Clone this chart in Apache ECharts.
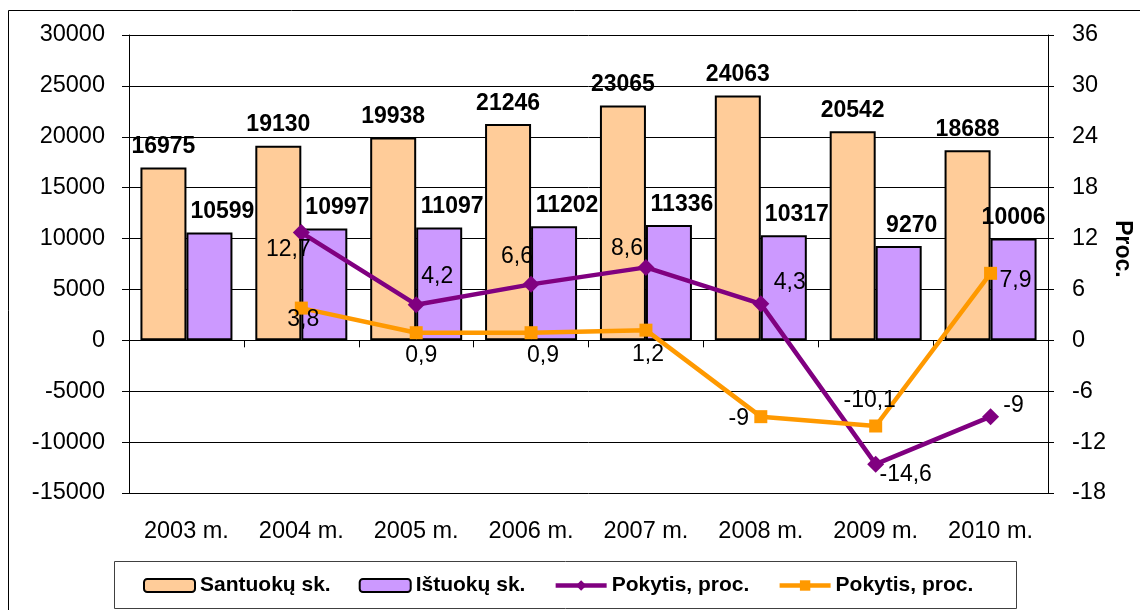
<!DOCTYPE html>
<html>
<head>
<meta charset="utf-8">
<script src="https://cdn.jsdelivr.net/npm/echarts@6/dist/echarts.min.js"></script>
<style>
  html, body { margin: 0; padding: 0; background: #fff; }
  #chart { width: 1140px; height: 610px; }
</style>
</head>
<body>
<div id="chart"></div>
<script>
// duomenys
const years = ['2003 m.', '2004 m.', '2005 m.', '2006 m.', '2007 m.', '2008 m.', '2009 m.', '2010 m.']
const marriages = [16975, 19130, 19938, 21246, 23065, 24063, 20542, 18688]
const divorces = [10599, 10997, 11097, 11202, 11336, 10317, 9270, 10006]
const marriageChange = [null, 12.7, 4.2, 6.6, 8.6, 4.3, -14.6, -9]
const divorceChange = [null, 3.8, 0.9, 0.9, 1.2, -9, -10.1, 7.9]

// kairė ir dešinė ašys
const leftTicks = { min: -15000, max: 30000, interval: 5000 }
const rightTicks = { min: -18, max: 36, interval: 6 }

// etikečių poslinkiai nuo taško (px)
const marriageLabelOffset = [null, [-13, 17], [21, -28], [-14, -28], [-19, -19], [29, -21], [30, 10], [23, -11]]
const divorceLabelOffset = [null, [2, 12], [5, 23], [12, 23], [2, 25], [-22, 2], [-6, -25], [25, 7]]

const FONT = "'Liberation Sans', Arial, sans-serif"
const fmt = (v) => String(v).replace('.', ',')

const chart = echarts.init(document.getElementById('chart'))

const lineData = (values, offsets) =>
  values.map((v, i) => ({
    value: v,
    label: offsets[i] ? { offset: offsets[i] } : undefined,
  }))

const option = {
  animation: false,
  textStyle: { fontFamily: FONT, color: '#000' },
  grid: { left: 129, right: 92, top: 35, bottom: 117 },
  graphic: [
    {
      type: 'rect',
      shape: { x: 8.5, y: 10.5, width: 1200, height: 700 },
      style: { fill: 'none', stroke: '#000', lineWidth: 1 },
      silent: true,
    },
    {
      type: 'rect',
      shape: { x: 114.5, y: 561.5, width: 902, height: 47 },
      style: { fill: 'none', stroke: '#404040', lineWidth: 1 },
      silent: true,
    },
    {
      type: 'text',
      x: 1122,
      y: 249,
      rotation: -Math.PI / 2,
      style: {
        text: 'Proc.',
        font: 'bold 23px ' + FONT,
        fill: '#000',
        align: 'center',
        verticalAlign: 'middle',
      },
    },
  ],
  legend: {
    left: 143,
    top: 575,
    padding: 0,
    itemWidth: 51,
    itemHeight: 13,
    itemGap: 28,
    textStyle: { fontFamily: FONT, fontSize: 21, fontWeight: 'bold', color: '#000' },
    data: [
      { name: 'Santuokų sk.' },
      { name: 'Ištuokų sk.' },
      { name: 'Pokytis, proc.', lineStyle: { width: 4.5 } },
      { name: 'Pokytis, proc. ', lineStyle: { width: 4.5 } },
    ],
  },
  xAxis: [
    {
      type: 'category',
      data: years,
      position: 'bottom',
      axisLine: { onZero: true, lineStyle: { color: '#000', width: 1 } },
      axisTick: { show: true, length: 7, lineStyle: { color: '#000' } },
      axisLabel: { show: false },
    },
    {
      type: 'category',
      data: years,
      position: 'bottom',
      axisLine: { show: false, onZero: false },
      axisTick: { show: false },
      axisLabel: { margin: 27, fontSize: 23.5, color: '#000', fontFamily: FONT },
    },
  ],
  yAxis: [
    {
      type: 'value',
      ...leftTicks,
      axisLine: { show: true, lineStyle: { color: '#000' } },
      axisTick: { show: true, length: 7, lineStyle: { color: '#000' } },
      axisLabel: { margin: 24, fontSize: 23.5, color: '#000', fontFamily: FONT, formatter: (v) => String(v) },
      splitLine: { show: true, lineStyle: { color: '#000', width: 1 } },
    },
    {
      type: 'value',
      ...rightTicks,
      position: 'right',
      axisLine: { show: true, lineStyle: { color: '#000' } },
      axisTick: { show: true, length: 6, lineStyle: { color: '#000' } },
      axisLabel: { margin: 24, fontSize: 23.5, color: '#000', fontFamily: FONT, formatter: (v) => String(v) },
      splitLine: { show: false },
    },
  ],
  series: [
    {
      name: 'Santuokų sk.',
      type: 'bar',
      data: marriages,
      barWidth: 46,
      barGap: '0%',
      itemStyle: { color: '#FFCC99', borderColor: '#000', borderWidth: 2 },
      label: {
        show: true,
        position: 'top',
        distance: 9,
        fontSize: 23,
        fontWeight: 'bold',
        color: '#000',
        fontFamily: FONT,
      },
      z: 2,
    },
    {
      name: 'Ištuokų sk.',
      type: 'bar',
      data: divorces.map((v, i) => ({
        value: v,
        label: { offset: i === divorces.length - 1 ? [0, 0] : [13, 0] },
      })),
      barWidth: 46,
      itemStyle: { color: '#CC99FF', borderColor: '#000', borderWidth: 2 },
      label: {
        show: true,
        position: 'top',
        distance: 9,
        fontSize: 23,
        fontWeight: 'bold',
        color: '#000',
        fontFamily: FONT,
      },
      z: 2,
    },
    {
      name: 'Pokytis, proc.',
      type: 'line',
      yAxisIndex: 1,
      data: lineData(marriageChange, marriageLabelOffset),
      symbol: 'diamond',
      symbolSize: 17,
      lineStyle: { color: '#800080', width: 4.5 },
      itemStyle: { color: '#800080' },
      label: {
        show: true,
        position: 'inside',
        align: 'center',
        verticalAlign: 'middle',
        fontSize: 23,
        color: '#000',
        fontFamily: FONT,
        formatter: (p) => fmt(p.value),
      },
      z: 5,
    },
    {
      name: 'Pokytis, proc. ',
      type: 'line',
      yAxisIndex: 1,
      data: lineData(divorceChange, divorceLabelOffset),
      symbol: 'rect',
      symbolSize: 13,
      lineStyle: { color: '#FF9900', width: 4.5 },
      itemStyle: { color: '#FF9900' },
      label: {
        show: true,
        position: 'inside',
        align: 'center',
        verticalAlign: 'middle',
        fontSize: 23,
        color: '#000',
        fontFamily: FONT,
        formatter: (p) => fmt(p.value),
      },
      z: 5,
    },
  ],
}

chart.setOption(option)
</script>
</body>
</html>
